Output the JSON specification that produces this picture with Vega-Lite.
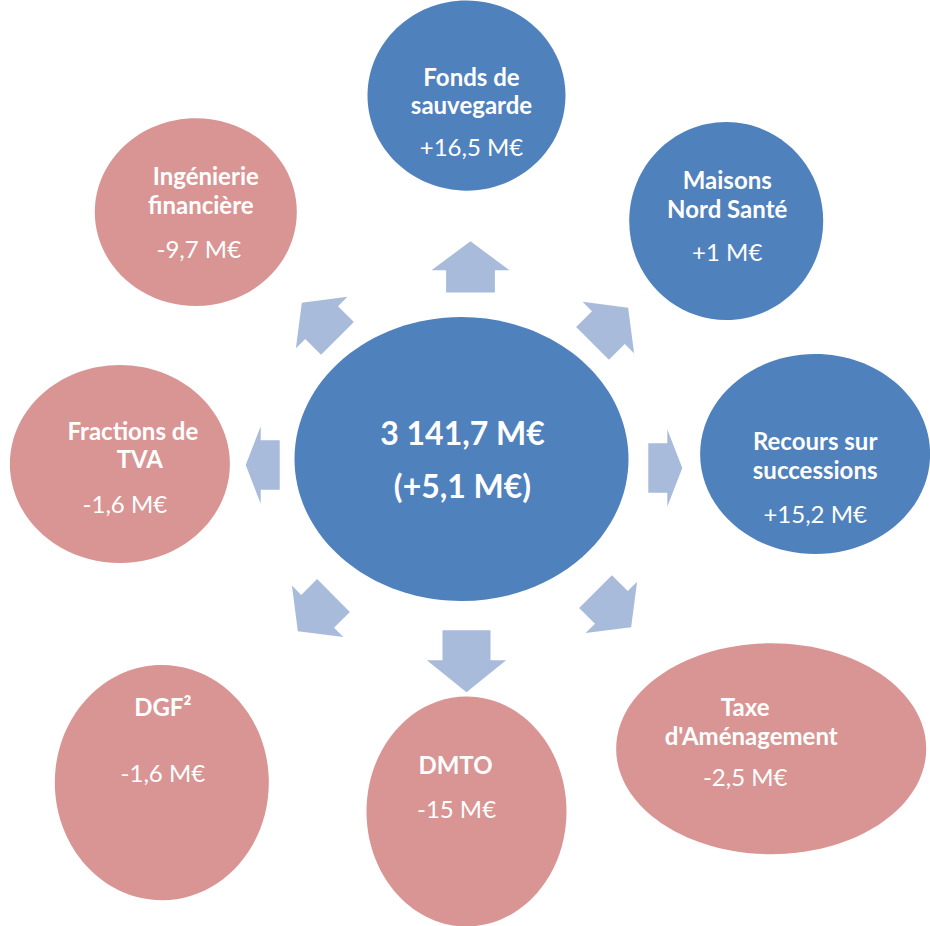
{
  "$schema": "https://vega.github.io/schema/vega-lite/v6.json",
  "width": 930,
  "height": 926,
  "padding": 0,
  "autosize": {"type": "fit", "contains": "padding"},
  "background": "white",
  "config": {"view": {"stroke": null}},
  "datasets": {
    "bubbles": [
      {"name": "Centre", "sign": "total", "cx": 462, "cy": 461, "rx": 167},
      {"name": "Fonds de sauvegarde", "sign": "hausse", "cx": 467, "cy": 96, "rx": 99},
      {"name": "Maisons Nord Santé", "sign": "hausse", "cx": 727, "cy": 222, "rx": 97},
      {"name": "Recours sur successions", "sign": "hausse", "cx": 816, "cy": 456, "rx": 115},
      {"name": "Taxe d'Aménagement", "sign": "baisse", "cx": 772, "cy": 752, "rx": 155},
      {"name": "DMTO", "sign": "baisse", "cx": 467, "cy": 815, "rx": 100},
      {"name": "DGF²", "sign": "baisse", "cx": 162, "cy": 786, "rx": 107},
      {"name": "Fractions de TVA", "sign": "baisse", "cx": 120, "cy": 466, "rx": 110},
      {"name": "Ingénierie financière", "sign": "baisse", "cx": 196, "cy": 213, "rx": 101}
    ],
    "arrows": [
      {"dir": "N", "kind": "up", "cx": 471, "cy": 268, "angle": 0},
      {"dir": "NE", "kind": "diag", "cx": 611, "cy": 327, "angle": 45},
      {"dir": "E", "kind": "side", "cx": 666, "cy": 470, "angle": 90},
      {"dir": "SE", "kind": "diag", "cx": 614, "cy": 612, "angle": 135},
      {"dir": "S", "kind": "down", "cx": 467, "cy": 664, "angle": 180},
      {"dir": "SW", "kind": "diag", "cx": 316, "cy": 616, "angle": 225},
      {"dir": "W", "kind": "side", "cx": 263, "cy": 467, "angle": 270},
      {"dir": "NW", "kind": "diag", "cx": 320, "cy": 322, "angle": 315}
    ],
    "labels": [
      {"role": "center", "text": "3 141,7 M€", "cx": 463, "cy": 437},
      {"role": "center", "text": "(+5,1 M€)", "cx": 463, "cy": 490},
      {"role": "title", "text": "Fonds de", "cx": 472, "cy": 79},
      {"role": "title", "text": "sauvegarde", "cx": 472, "cy": 107},
      {"role": "value", "text": "+16,5 M€", "cx": 472, "cy": 150},
      {"role": "title", "text": "Maisons", "cx": 728, "cy": 183},
      {"role": "title", "text": "Nord Santé", "cx": 728, "cy": 212},
      {"role": "value", "text": "+1 M€", "cx": 728, "cy": 255},
      {"role": "title", "text": "Recours sur", "cx": 816, "cy": 445},
      {"role": "title", "text": "successions", "cx": 816, "cy": 474},
      {"role": "value", "text": "+15,2 M€", "cx": 816, "cy": 518},
      {"role": "title", "text": "Taxe", "cx": 746, "cy": 712},
      {"role": "title", "text": "d'Aménagement", "cx": 752, "cy": 741},
      {"role": "value", "text": "-2,5 M€", "cx": 746, "cy": 782},
      {"role": "title", "text": "DMTO", "cx": 456, "cy": 770},
      {"role": "value", "text": "-15 M€", "cx": 457, "cy": 815},
      {"role": "title", "text": "DGF²", "cx": 163, "cy": 712},
      {"role": "value", "text": "-1,6 M€", "cx": 163, "cy": 778},
      {"role": "title", "text": "Fractions de", "cx": 133, "cy": 435},
      {"role": "title", "text": "TVA", "cx": 140, "cy": 463},
      {"role": "value", "text": "-1,6 M€", "cx": 125, "cy": 508},
      {"role": "title", "text": "Ingénierie", "cx": 206, "cy": 179},
      {"role": "title", "text": "financière", "cx": 201, "cy": 208},
      {"role": "value", "text": "-9,7 M€", "cx": 199, "cy": 252}
    ]
  },
  "encoding": {
    "x": {"field": "cx", "type": "quantitative", "axis": null, "scale": {"domain": [0, 930], "nice": false, "zero": false}},
    "y": {"field": "cy", "type": "quantitative", "axis": null, "scale": {"domain": [0, 926], "nice": false, "zero": false, "reverse": true}}
  },
  "layer": [
    {
      "data": {"name": "arrows"},
      "mark": {"type": "point", "filled": true, "opacity": 1, "color": "#a9bbdb", "strokeWidth": 0},
      "encoding": {
        "shape": {
          "field": "kind", "type": "nominal", "legend": null,
          "scale": {
            "domain": ["up", "diag", "down", "side"],
            "range": [
              "M0,-0.64L0.975,0.085L0.61,0.085L0.61,0.64L-0.61,0.64L-0.61,0.085L-0.975,0.085Z",
              "M0,-0.63L0.91,0.07L0.58,0.07L0.58,0.63L-0.58,0.63L-0.58,0.07L-0.91,0.07Z",
              "M0,-0.775L0.99,0.025L0.6,0.025L0.6,0.775L-0.6,0.775L-0.6,0.025L-0.99,0.025Z",
              "M0,-0.425L0.97,-0.05L0.62,-0.05L0.62,0.425L-0.62,0.425L-0.62,-0.05L-0.97,-0.05Z"
            ]
          }
        },
        "angle": {"field": "angle", "type": "quantitative", "scale": null},
        "size": {"value": 6400}
      }
    },
    {
      "data": {"name": "bubbles"},
      "mark": {"type": "point", "filled": true, "opacity": 1, "strokeWidth": 0},
      "encoding": {
        "shape": {
          "field": "name", "type": "nominal", "legend": null,
          "scale": {
            "domain": ["Centre", "Fonds de sauvegarde", "Maisons Nord Santé", "Recours sur successions", "Taxe d'Aménagement", "DMTO", "DGF²", "Fractions de TVA", "Ingénierie financière"],
            "range": [
              "M-1,0A1,0.85,0,1,1,1,0A1,0.85,0,1,1,-1,0Z",
              "M-1,0A1,0.96,0,1,1,1,0A1,0.96,0,1,1,-1,0Z",
              "M-1,0A1,1.02,0,1,1,1,0A1,1.02,0,1,1,-1,0Z",
              "M-1,0A1,0.87,0,1,1,1,0A1,0.87,0,1,1,-1,0Z",
              "M-1,0A1,0.68,0,1,1,1,0A1,0.68,0,1,1,-1,0Z",
              "M-1,0A1,1.15,0,1,1,1,0A1,1.15,0,1,1,-1,0Z",
              "M-1,0A1,1.1,0,1,1,1,0A1,1.1,0,1,1,-1,0Z",
              "M-1,0A1,0.9,0,1,1,1,0A1,0.9,0,1,1,-1,0Z",
              "M-1,0A1,0.93,0,1,1,1,0A1,0.93,0,1,1,-1,0Z"
            ]
          }
        },
        "size": {"field": "rx", "type": "quantitative", "legend": null, "scale": {"type": "pow", "exponent": 2, "domain": [0, 100], "range": [0, 40000], "zero": true}},
        "color": {"field": "sign", "type": "nominal", "legend": null, "scale": {"domain": ["total", "hausse", "baisse"], "range": ["#4f81bd", "#4f81bd", "#d99594"]}}
      }
    },
    {
      "data": {"name": "labels"},
      "transform": [{"filter": "datum.role === 'title'"}],
      "mark": {"type": "text", "font": "Lato", "fontSize": 24, "fontWeight": "bold", "color": "white", "align": "center", "baseline": "middle"},
      "encoding": {"text": {"field": "text"}}
    },
    {
      "data": {"name": "labels"},
      "transform": [{"filter": "datum.role === 'value'"}],
      "mark": {"type": "text", "font": "Lato", "fontSize": 24, "fontWeight": "normal", "color": "white", "align": "center", "baseline": "middle"},
      "encoding": {"text": {"field": "text"}}
    },
    {
      "data": {"name": "labels"},
      "transform": [{"filter": "datum.role === 'center'"}],
      "mark": {"type": "text", "font": "Lato", "fontSize": 32, "fontWeight": "bold", "color": "white", "align": "center", "baseline": "middle"},
      "encoding": {"text": {"field": "text"}}
    }
  ],
  "resolve": {"scale": {"shape": "independent", "size": "independent", "color": "independent"}}
}
